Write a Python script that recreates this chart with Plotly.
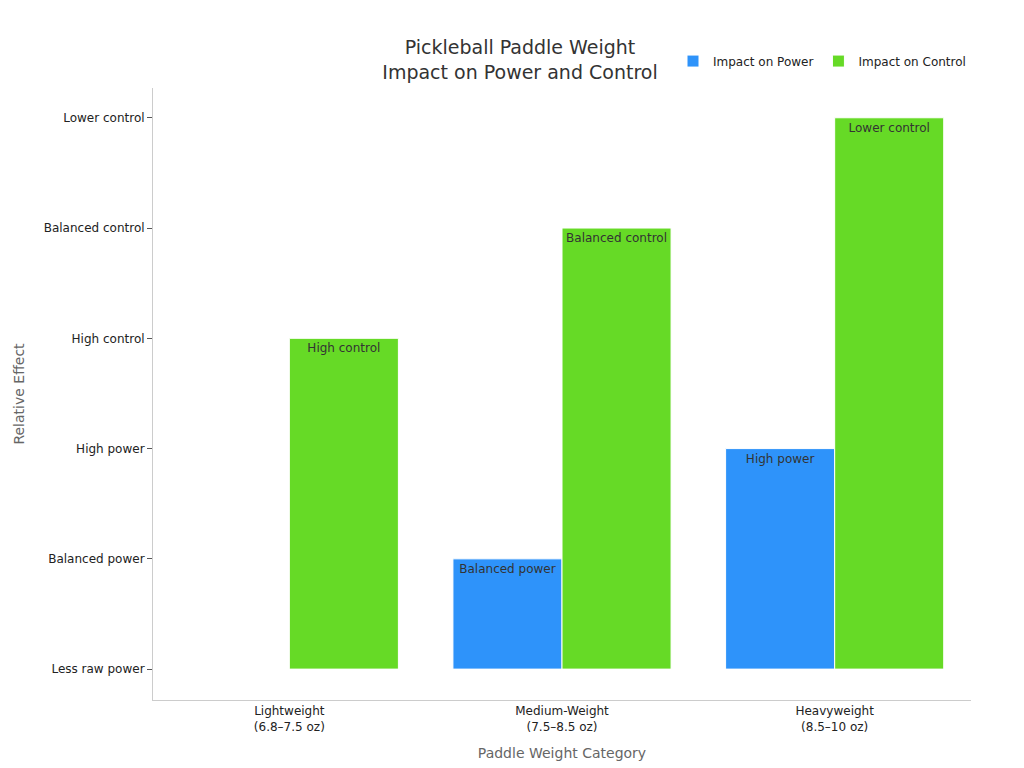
import plotly.graph_objects as go

categories = ["Lightweight<br>(6.8–7.5 oz)", "Medium-Weight<br>(7.5–8.5 oz)", "Heavyweight<br>(8.5–10 oz)"]
tick_labels = ["Less raw power", "Balanced power", "High power", "High control", "Balanced control", "Lower control"]
power_values = [0, 1, 2]
control_values = [3, 4, 5]
power_text = ["", "Balanced power", "High power"]
control_text = ["High control", "Balanced control", "Lower control"]

fig = go.Figure()
fig.add_trace(go.Bar(x=categories, y=power_values, name="Impact on Power", text=power_text,
                     marker=dict(color="#2E93FA", line=dict(color="white", width=1))))
fig.add_trace(go.Bar(x=categories, y=control_values, name="Impact on Control", text=control_text,
                     marker=dict(color="#66DA26", line=dict(color="white", width=1))))
fig.update_traces(textposition="inside", insidetextanchor="end", textangle=0,
                  textfont=dict(size=12, color="#333"), cliponaxis=False)

fig.update_layout(
    width=1024, height=768,
    font=dict(family="DejaVu Sans", size=12, color="#222"),
    title=dict(text="Pickleball Paddle Weight<br>Impact on Power and Control", x=0.5, y=0.94,
               xanchor="center", yanchor="middle", font=dict(size=19, color="#333")),
    barmode="group", bargap=0.2, bargroupgap=0,
    plot_bgcolor="white", paper_bgcolor="white",
    margin=dict(l=145, r=61, t=80, b=76),
    legend=dict(orientation="h", x=1, xanchor="right", y=1.044, yanchor="middle",
                font=dict(size=12)),
    xaxis=dict(title=dict(text="Paddle Weight Category", font=dict(size=14, color="#666")),
               showline=True, linecolor="#ccc", ticks="", tickfont=dict(size=12), automargin=False),
    yaxis=dict(title=dict(text="Relative Effect", font=dict(size=14, color="#666")),
               range=[-0.28, 5.27], tickvals=list(range(6)), ticktext=tick_labels,
               showgrid=False, zeroline=False, showline=True, linecolor="#ccc",
               ticks="outside", ticklen=5, tickcolor="#555", tickfont=dict(size=12),
               automargin=False),
)

fig.write_html("out.html")
